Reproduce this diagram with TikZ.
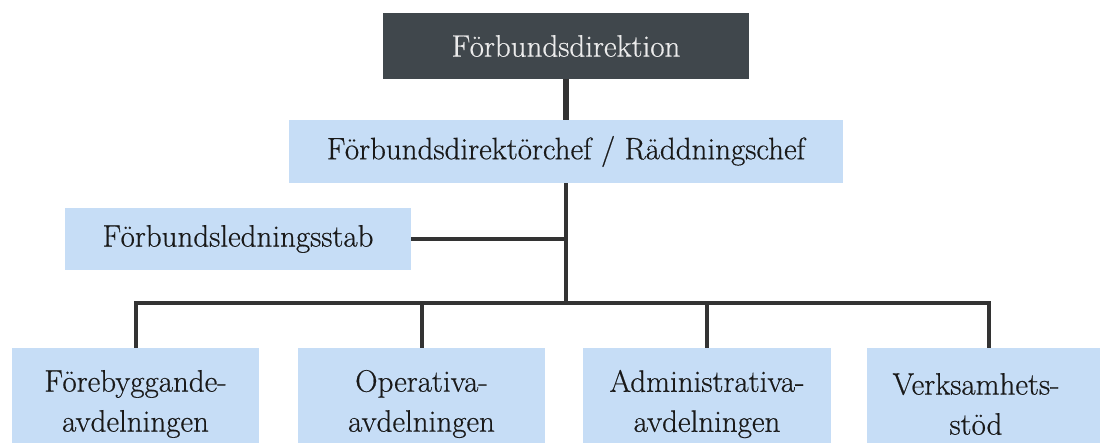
\documentclass[tikz,border=0pt]{standalone}
\usepackage{fontspec}
\setmainfont{Latin Modern Roman}[FakeBold=0.5]
\begin{document}
\begin{tikzpicture}[x=1pt,y=-1pt,
  box/.style={rectangle,inner sep=0pt,align=center,font=\fontsize{31}{40}\selectfont},
  lightbox/.style={box,fill=boxblue,text=black!90},
  conn/.style={line width=4pt,draw=linegray}]
\definecolor{boxblue}{HTML}{C6DDF6}
\definecolor{darkbox}{HTML}{40474C}
\definecolor{linegray}{HTML}{333333}
\useasboundingbox[fill=white] (0,0) rectangle (1100,443);
\node[box,fill=darkbox,text=white!92!black,minimum width=366pt,minimum height=66pt] (dir) at (566,46) {Förbundsdirektion};
\node[lightbox,minimum width=554pt,minimum height=63pt] (chief) at (566,151.5) {Förbundsdirektörchef / Räddningschef};
\node[lightbox,minimum width=346pt,minimum height=62pt] (stab) at (238,239) {Förbundsledningsstab};
\coordinate (j) at (566,303);
\node[lightbox,minimum width=247pt,minimum height=112pt] (b1) at (135.5,404) {Förebyggande-\\avdelningen};
\node[lightbox,minimum width=247pt,minimum height=112pt] (b2) at (421.5,404) {Operativa-\\avdelningen};
\node[lightbox,minimum width=248pt,minimum height=112pt] (b3) at (707,404) {Administrativa-\\avdelningen};
\node[lightbox,minimum width=244pt,minimum height=112pt] (b4) at (989,404) {Verksamhets-\hspace*{26pt}\\stöd\hspace*{26pt}};
\draw[conn,line width=5.5pt] (dir.south) -- (dir.south |- chief.north);
\draw[conn] (chief.south -| j) -- (j);
\draw[conn] (stab.east) -- (stab.east -| j);
\draw[conn] (b1.north) -- (b1.north |- j) -- (b4.north |- j) -- (b4.north);
\draw[conn] (b2.north) -- (b2.north |- j);
\draw[conn] (b3.north) -- (b3.north |- j);
\end{tikzpicture}
\end{document}
